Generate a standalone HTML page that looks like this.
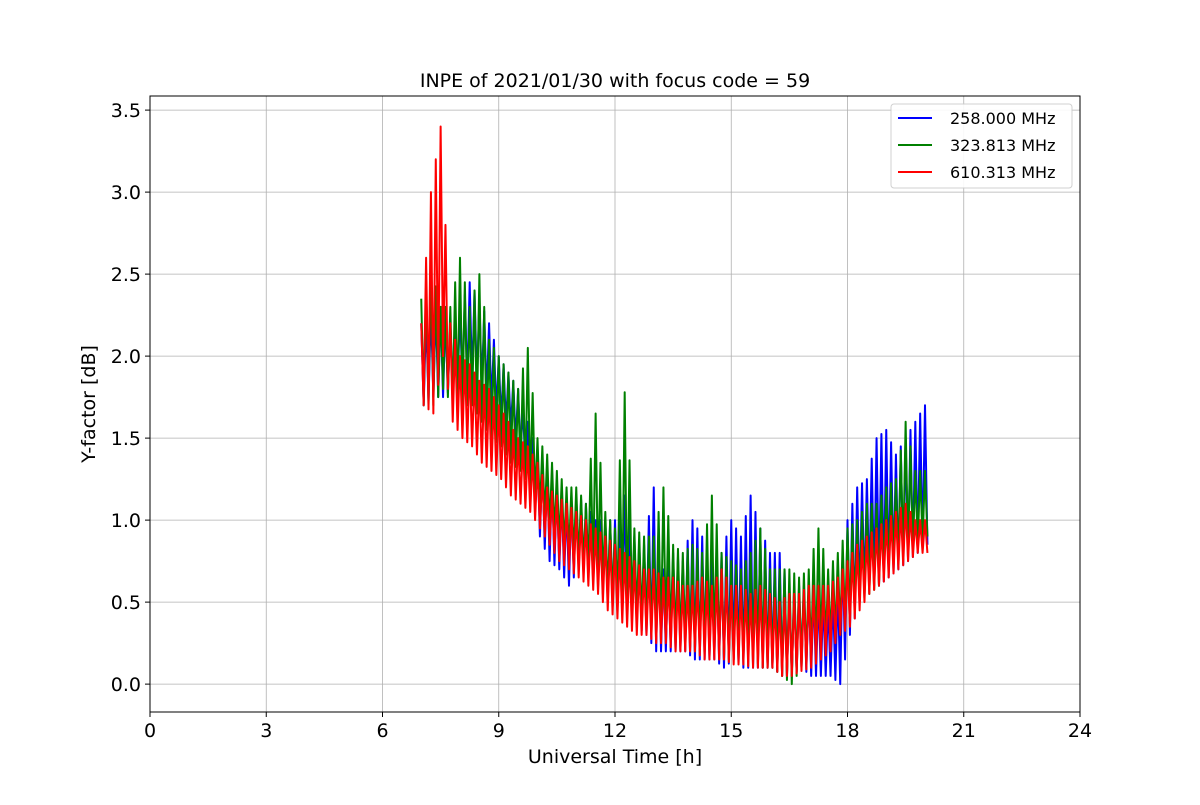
<!DOCTYPE html>
<html><head><meta charset="utf-8"><style>
body{margin:0;background:#fff;}
svg text{font-family:"DejaVu Sans","Liberation Sans",sans-serif;}
</style></head><body>
<svg width="1200" height="800" viewBox="0 0 1200 800" id="chart">
<rect width="1200" height="800" fill="#fff"/>
<g id="grid"></g><g id="series"></g><g id="axes"></g>
<text x="615" y="87" text-anchor="middle" font-size="19">INPE of 2021/01/30 with focus code = 59</text>
<text x="615" y="763" text-anchor="middle" font-size="19">Universal Time [h]</text>
<text transform="translate(95,404) rotate(-90)" text-anchor="middle" font-size="19">Y-factor [dB]</text>
<g>
<rect x="891" y="104" width="181" height="84" rx="3" fill="#fff" stroke="#ccc" opacity="0.9"/>
<line x1="898" y1="118" x2="932" y2="118" stroke="#0000ff" stroke-width="2"/><text x="950" y="124" font-size="16">258.000 MHz</text>
<line x1="898" y1="145" x2="932" y2="145" stroke="#008000" stroke-width="2"/><text x="950" y="151" font-size="16">323.813 MHz</text>
<line x1="898" y1="172" x2="932" y2="172" stroke="#ff0000" stroke-width="2"/><text x="950" y="178" font-size="16">610.313 MHz</text>
</g>
</svg>
<script>
const times=[7,7.25,7.5,7.75,8,8.25,8.5,8.75,9,9.25,9.5,9.75,10,10.25,10.5,10.75,11,11.25,11.5,11.75,12,12.25,12.5,12.75,13,13.25,13.5,13.75,14,14.25,14.5,14.75,15,15.25,15.5,15.75,16,16.25,16.5,16.75,17,17.25,17.5,17.75,18,18.25,18.5,18.75,19,19.25,19.5,19.75,20];
const blueLo=[1.7,1.75,1.75,1.8,1.8,1.85,1.8,1.7,1.6,1.55,1.4,1.2,0.9,0.75,0.7,0.6,0.7,0.65,0.6,0.5,0.45,0.45,0.35,0.3,0.2,0.2,0.2,0.2,0.15,0.15,0.15,0.1,0.15,0.1,0.1,0.1,0.1,0.05,0.05,0.1,0.05,0.05,0.05,0.0,0.3,0.5,0.6,0.6,0.65,0.7,0.75,0.8,0.85];
const blueHi=[2.2,2.3,2.3,2.2,2.3,2.45,2.35,2.2,2.0,1.9,1.8,1.6,1.4,1.3,1.2,1.1,1.15,1.1,1.0,1.0,1.0,1.15,0.9,0.85,1.2,0.7,0.8,0.75,1.0,0.9,0.75,0.8,1.0,0.9,1.15,0.95,0.8,0.8,0.6,0.6,0.6,0.55,0.5,0.6,1.0,1.2,1.25,1.5,1.55,1.4,1.5,1.6,1.7];
const greenLo=[1.7,1.7,1.8,1.7,1.7,1.7,1.6,1.5,1.45,1.35,1.3,1.2,1.05,0.95,0.85,0.8,0.75,0.7,0.65,0.55,0.5,0.45,0.4,0.35,0.3,0.3,0.25,0.25,0.2,0.2,0.2,0.15,0.15,0.15,0.15,0.1,0.1,0.05,0.0,0.1,0.15,0.2,0.25,0.3,0.4,0.5,0.55,0.6,0.7,0.75,0.8,0.85,0.9];
const greenHi=[2.35,2.55,2.3,2.3,2.6,2.3,2.5,2.1,2.0,1.9,1.8,2.05,1.5,1.4,1.3,1.2,1.2,1.1,1.65,1.05,0.95,1.78,0.95,0.9,0.9,1.2,0.85,0.8,0.85,0.8,1.15,0.8,0.75,0.7,0.8,0.95,0.7,0.7,0.7,0.65,0.7,0.95,0.7,0.8,0.95,1.0,1.1,1.1,1.2,1.25,1.6,1.3,1.3];
const redLo=[1.7,1.65,2.0,1.6,1.5,1.45,1.35,1.3,1.25,1.15,1.1,1.05,0.95,0.85,0.75,0.7,0.65,0.6,0.55,0.45,0.4,0.35,0.3,0.3,0.25,0.25,0.2,0.2,0.2,0.15,0.15,0.15,0.12,0.12,0.1,0.1,0.1,0.05,0.05,0.08,0.1,0.15,0.2,0.3,0.35,0.45,0.55,0.6,0.65,0.7,0.75,0.8,0.8];
const redHi=[2.2,3.0,3.4,2.2,2.0,1.95,1.85,1.8,1.7,1.6,1.5,1.45,1.35,1.2,1.15,1.1,1.05,1.0,0.95,0.9,0.85,0.8,0.75,0.7,0.7,0.65,0.65,0.6,0.6,0.65,0.6,0.7,0.6,0.6,0.55,0.6,0.55,0.5,0.55,0.55,0.6,0.6,0.6,0.65,0.75,0.85,0.9,0.95,1.0,1.05,1.1,1.0,1.0];
const xTicks=[0,3,6,9,12,15,18,21,24];
const yTicks=[0.0,0.5,1.0,1.5,2.0,2.5,3.0,3.5];

const L=150,R=1080,T=96,B=712,XMIN=0,XMAX=24,YMIN=-0.17,YMAX=3.586;
const X=v=>L+(v-XMIN)/(XMAX-XMIN)*(R-L);
const Y=v=>B-(v-YMIN)/(YMAX-YMIN)*(B-T);
const NS='http://www.w3.org/2000/svg';
function mk(tag,attrs,parent){const e=document.createElementNS(NS,tag);for(const k in attrs)e.setAttribute(k,attrs[k]);parent.appendChild(e);return e;}
const grid=document.getElementById('grid'),axes=document.getElementById('axes'),ser=document.getElementById('series');
xTicks.forEach(t=>{
  const g=mk('line',{x1:X(t),x2:X(t),y1:T,y2:B,stroke:'#b0b0b0','stroke-width':0.8},grid);
  
  
  mk('line',{x1:X(t),x2:X(t),y1:B,y2:B+5,stroke:'#000'},axes);
  const tx=mk('text',{x:X(t),y:B+25,'text-anchor':'middle','font-size':19},axes);
  tx.textContent=t;
  
  
});
yTicks.forEach(t=>{
  const g=mk('line',{x1:L,x2:R,y1:Y(t),y2:Y(t),stroke:'#b0b0b0','stroke-width':0.8},grid);
  
  
  mk('line',{x1:L-5,x2:L,y1:Y(t),y2:Y(t),stroke:'#000'},axes);
  const tx=mk('text',{x:L-9,y:Y(t)+7,'text-anchor':'end','font-size':19},axes);
  tx.textContent=t.toFixed(1);
  
  
});
const frame=mk('rect',{x:L,y:T,width:R-L,height:B-T,fill:'none',stroke:'#000','stroke-width':1},axes);


function draw(lo,hi,color,name){
  let pts=[];
  for(let i=0;i<times.length;i++){
    const step=(i<times.length-1?times[i+1]-times[i]:0.25)/4;
    pts.push(X(times[i])+','+Y(hi[i]));
    pts.push(X(times[i]+step)+','+Y(lo[i]));
    if(i<times.length-1){
      pts.push(X(times[i]+2*step)+','+Y((hi[i]+hi[i+1])/2));
      pts.push(X(times[i]+3*step)+','+Y((lo[i]+lo[i+1])/2));
    }
  }
  const p=mk('polyline',{points:pts.join(' '),fill:'none',stroke:color,'stroke-width':2,'stroke-linejoin':'round'},ser);
  
  
}
draw(blueLo,blueHi,'#0000ff','series-258mhz');
draw(greenLo,greenHi,'#008000','series-323mhz');
draw(redLo,redHi,'#ff0000','series-610mhz');
</script>
</body></html>
